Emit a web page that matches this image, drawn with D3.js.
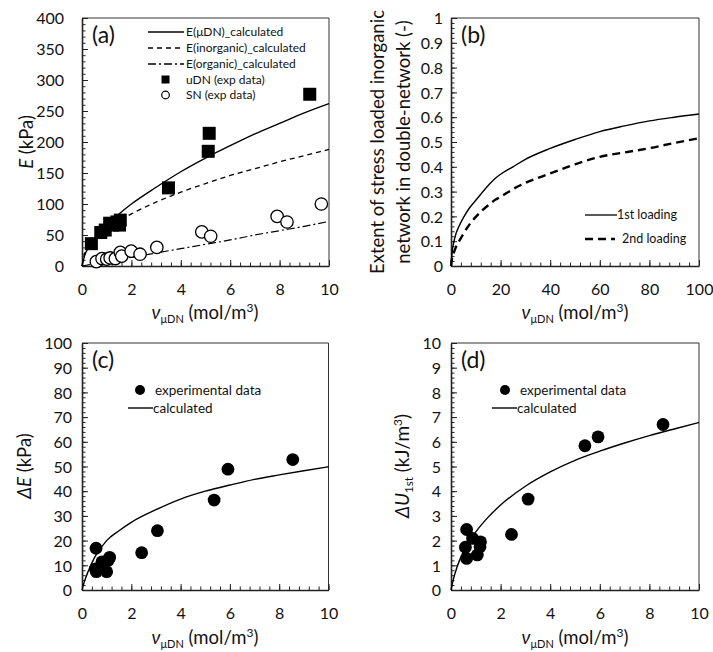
<!DOCTYPE html>
<html><head><meta charset="utf-8">
<script src="https://cdn.jsdelivr.net/npm/d3@7"></script>
<style>
body{margin:0;background:#fff;}
svg{font-family:Lato, "Open Sans", sans-serif;}
</style></head>
<body><svg id="c" width="713" height="652"></svg>
<script>
// ---- Panel (a) data ----
const uDN_v = [0.38, 0.76, 0.94, 1.12, 1.25, 1.41, 1.55, 1.52, 3.5, 5.11, 5.15, 9.22];
const uDN_E = [36, 54, 58, 69, 66, 71, 74, 66, 126, 185, 214, 277];
const SN_v = [0.58, 0.81, 1.0, 1.14, 1.35, 1.55, 1.61, 1.99, 2.35, 3.03, 4.85, 5.21, 7.9, 8.3, 9.69];
const SN_E = [7, 12, 11, 13, 12, 22, 16, 24, 19, 30, 55, 48, 80, 71, 100];
const calc_v = [0, 0.1, 0.25, 0.5, 1, 1.5, 2, 3, 4, 5, 6, 7, 8, 9, 10];
const E_uDN_calc = [0, 16, 29, 44, 66, 84, 100, 127, 152, 174, 194, 213, 230, 247, 262];
const E_inorg_calc = [0, 19, 30, 42, 60, 73, 84, 103, 119, 133, 146, 157, 168, 178, 188];
const E_org_calc = [0, 0.7, 1.8, 3.5, 7, 10.5, 14, 21, 28, 35, 42, 50, 57, 64, 72];
// ---- Panel (b) data ----
const b_v = [0, 0.5, 1, 2, 3, 5, 7.5, 10, 15, 18, 20, 25, 30, 40, 50, 60, 70, 80, 90, 100];
const b_first = [0, 0.06, 0.09, 0.13, 0.155, 0.195, 0.235, 0.265, 0.325, 0.355, 0.37, 0.4, 0.43, 0.474, 0.51, 0.542, 0.565, 0.585, 0.6, 0.613];
const b_second = [0, 0.035, 0.05, 0.077, 0.095, 0.13, 0.168, 0.198, 0.245, 0.268, 0.279, 0.31, 0.335, 0.373, 0.41, 0.44, 0.458, 0.475, 0.496, 0.515];
// ---- Panels (c),(d) data ----
const exp_v = [0.57, 0.54, 0.58, 0.81, 1.0, 1.07, 1.12, 2.42, 3.06, 5.36, 5.92, 8.55];
const dE_exp = [16.9, 8.5, 7.4, 11.4, 7.4, 12.1, 13.2, 15.1, 24.0, 36.4, 48.9, 52.8];
const dU_v = [0.58, 0.63, 0.63, 0.87, 1.06, 1.17, 1.19, 2.44, 3.11, 5.4, 5.93, 8.55];
const dU_exp = [1.73, 2.45, 1.28, 2.09, 1.42, 1.75, 1.95, 2.25, 3.68, 5.84, 6.2, 6.7];
const cd_calc_v = [0, 0.1, 0.25, 0.5, 1, 1.5, 2, 3, 4, 5, 6, 7, 8, 9, 10];
const dE_calc = [0, 3.5, 7.5, 13, 20, 24, 27.4, 32.5, 36.8, 40, 42.5, 44.8, 46.6, 48.3, 49.9];
const dU_calc = [0, 0.45, 0.95, 1.55, 2.35, 2.95, 3.44, 4.2, 4.78, 5.25, 5.62, 5.95, 6.25, 6.52, 6.78];
// ---- tick definitions ----
const ticksA_x = [0, 2, 4, 6, 8, 10];
const ticksA_y = [0, 50, 100, 150, 200, 250, 300, 350, 400];
const ticksB_x = [0, 20, 40, 60, 80, 100];
const ticksB_y = [0, 0.1, 0.2, 0.3, 0.4, 0.5, 0.6, 0.7, 0.8, 0.9, 1];
const ticksC_y = [0, 10, 20, 30, 40, 50, 60, 70, 80, 90, 100];
const ticksD_y = [0, 1, 2, 3, 4, 5, 6, 7, 8, 9, 10];

const svg = d3.select("#c");
const TICKFONT = 16;

function range(a, b, s) { const r = []; for (let i = 0; a + i * s <= b + 1e-9; i++) r.push(+(a + i * s).toFixed(6)); return r; }

function panel(o) {
  const g = svg.append("g");
  const x = d3.scaleLinear().domain(o.xd).range([o.l, o.l + o.w]);
  const y = d3.scaleLinear().domain(o.yd).range([o.t + o.h, o.t]);
  g.append("path").attr("d", `M${o.l},${o.t}H${o.l + o.w}V${o.t + o.h}`)
    .attr("fill", "none").attr("stroke", "#333").attr("stroke-width", 1);
  const minX = range(o.xd[0], o.xd[1], o.xminor);
  const minY = range(o.yd[0], o.yd[1], o.yminor);
  g.append("g").attr("transform", `translate(0,${o.t + o.h})`)
    .call(d3.axisBottom(x).tickValues(minX).tickSize(-3.5).tickFormat(""))
    .call(s => s.select(".domain").remove());
  g.append("g").attr("transform", `translate(${o.l},0)`)
    .call(d3.axisLeft(y).tickValues(minY).tickSize(-3.5).tickFormat(""))
    .call(s => s.select(".domain").remove());
  const ax = g.append("g").attr("transform", `translate(0,${o.t + o.h})`)
    .call(d3.axisBottom(x).tickValues(o.xt).tickSize(-6).tickPadding(18).tickSizeOuter(0).tickFormat(d3.format("~g")));
  const ay = g.append("g").attr("transform", `translate(${o.l},0)`)
    .call(d3.axisLeft(y).tickValues(o.yt).tickSize(-6).tickPadding(o.ypad).tickSizeOuter(0).tickFormat(d3.format("~g")));
  [ax, ay].forEach(a => {
    a.selectAll("text").attr("font-size", TICKFONT).attr("fill", "#111").attr("font-family", "Lato");
    a.select(".domain").attr("stroke", "#222").attr("stroke-width", 1.6);
  });
  ay.selectAll("text").attr("dy", "0.36em");
  g.selectAll(".tick line").attr("stroke", "#222").attr("stroke-width", 1);
  g.append("text").attr("x", o.l + o.labdx).attr("y", o.t + 25).attr("font-size", 23).attr("fill", "#111").text(o.label);
  return { g, x, y };
}

function xTitle(g, cx, by) {
  const t = g.append("text").attr("x", cx).attr("y", by).attr("text-anchor", "middle").attr("font-size", 18.5).attr("fill", "#111");
  t.append("tspan").attr("font-style", "italic").text("ν");
  t.append("tspan").attr("font-size", 11).attr("dy", 4).text("μDN");
  t.append("tspan").attr("dy", -4).text(" (mol/m");
  t.append("tspan").attr("font-size", 12).attr("dy", -7).text("3");
  t.append("tspan").attr("dy", 7).text(")");
}

function line(g, x, y, xs, ys, style) {
  const pts = xs.map((v, i) => [v, ys[i]]);
  g.append("path").datum(pts)
    .attr("d", d3.line().curve(d3.curveMonotoneX).x(d => x(d[0])).y(d => y(d[1])))
    .attr("fill", "none").attr("stroke", "#000").attr("stroke-width", style.w || 1.4)
    .attr("stroke-dasharray", style.dash || null);
}

// ===== Panel (a) =====
const A = panel({ l: 82, t: 18, w: 247, h: 248, xd: [0, 10], yd: [0, 400], xt: ticksA_x, yt: ticksA_y, xminor: 0.4, yminor: 10, ypad: 18, label: "(a)", labdx: 10 });
line(A.g, A.x, A.y, calc_v, E_org_calc, { dash: "8,3,2,3", w: 1.2 });
line(A.g, A.x, A.y, calc_v, E_inorg_calc, { dash: "5,4", w: 1.3 });
line(A.g, A.x, A.y, calc_v, E_uDN_calc, { w: 1.4 });
A.g.selectAll("circle.sn").data(SN_v.map((v, i) => [v, SN_E[i]])).enter().append("circle")
  .attr("cx", d => A.x(d[0])).attr("cy", d => A.y(d[1])).attr("r", 6.2)
  .attr("fill", "#fff").attr("stroke", "#000").attr("stroke-width", 1.3);
A.g.selectAll("rect.u").data(uDN_v.map((v, i) => [v, uDN_E[i]])).enter().append("rect")
  .attr("x", d => A.x(d[0]) - 6.5).attr("y", d => A.y(d[1]) - 6.5).attr("width", 13).attr("height", 13).attr("fill", "#000");
A.g.append("g").attr("transform", "rotate(-90)").append("text")
  .attr("x", -142).attr("y", 33).attr("text-anchor", "middle").attr("font-size", 18.5).attr("fill", "#111")
  .call(t => { t.append("tspan").attr("font-style", "italic").text("E"); t.append("tspan").text(" (kPa)"); });
xTitle(A.g, 205, 319);
const legA = [
  { t: "E(μDN)_calculated", type: "line", dash: null, y: 32 },
  { t: "E(inorganic)_calculated", type: "line", dash: "5,4", y: 48 },
  { t: "E(organic)_calculated", type: "line", dash: "8,3,2,3", y: 64 },
  { t: "uDN (exp data)", type: "sq", y: 79.5 },
  { t: "SN (exp data)", type: "ci", y: 95 }
];
legA.forEach(d => {
  if (d.type === "line") A.g.append("line").attr("x1", 148).attr("x2", 184).attr("y1", d.y).attr("y2", d.y).attr("stroke", "#000").attr("stroke-width", 1.3).attr("stroke-dasharray", d.dash);
  if (d.type === "sq") A.g.append("rect").attr("x", 161.5).attr("y", d.y - 4).attr("width", 8).attr("height", 8).attr("fill", "#000");
  if (d.type === "ci") A.g.append("circle").attr("cx", 165.5).attr("cy", d.y).attr("r", 3.8).attr("fill", "#fff").attr("stroke", "#000").attr("stroke-width", 1.2);
  A.g.append("text").attr("x", 186).attr("y", d.y + 4).attr("font-size", 12).attr("fill", "#111").text(d.t);
});

// ===== Panel (b) =====
const B = panel({ l: 451, t: 18, w: 248, h: 248, xd: [0, 100], yd: [0, 1], xt: ticksB_x, yt: ticksB_y, xminor: 4, yminor: 0.02, ypad: 8, label: "(b)", labdx: 10 });
line(B.g, B.x, B.y, b_v, b_second, { dash: "8,5", w: 2.4 });
line(B.g, B.x, B.y, b_v, b_first, { w: 1.4 });
const bt = B.g.append("g").attr("transform", "rotate(-90)");
bt.append("text").attr("x", -142).attr("y", 384).attr("text-anchor", "middle").attr("font-size", 18.5).attr("fill", "#111").text("Extent of stress loaded inorganic");
bt.append("text").attr("x", -142).attr("y", 410).attr("text-anchor", "middle").attr("font-size", 18.5).attr("fill", "#111").text("network in double-network (-)");
xTitle(B.g, 575, 319);
B.g.append("line").attr("x1", 585).attr("x2", 617).attr("y1", 215).attr("y2", 215).attr("stroke", "#000").attr("stroke-width", 1.3);
B.g.append("text").attr("x", 617).attr("y", 219).attr("font-size", 12.5).attr("fill", "#111").text("1st loading");
B.g.append("line").attr("x1", 585).attr("x2", 615).attr("y1", 239).attr("y2", 239).attr("stroke", "#000").attr("stroke-width", 2.4).attr("stroke-dasharray", "8,5");
B.g.append("text").attr("x", 622).attr("y", 243).attr("font-size", 12.5).attr("fill", "#111").text("2nd loading");

// ===== Panel (c) =====
const C = panel({ l: 82, t: 343, w: 246.5, h: 247, xd: [0, 10], yd: [0, 100], xt: ticksA_x, yt: ticksC_y, xminor: 0.4, yminor: 2, ypad: 10, label: "(c)", labdx: 10 });
line(C.g, C.x, C.y, cd_calc_v, dE_calc, { w: 1.4 });
C.g.selectAll("circle.e").data(exp_v.map((v, i) => [v, dE_exp[i]])).enter().append("circle")
  .attr("cx", d => C.x(d[0])).attr("cy", d => C.y(d[1])).attr("r", 6.4).attr("fill", "#000");
C.g.append("g").attr("transform", "rotate(-90)").append("text")
  .attr("x", -466).attr("y", 31).attr("text-anchor", "middle").attr("font-size", 18.5).attr("fill", "#111")
  .call(t => { t.append("tspan").attr("font-style", "italic").text("ΔE"); t.append("tspan").text(" (kPa)"); });
xTitle(C.g, 205, 644);
C.g.append("circle").attr("cx", 140).attr("cy", 390).attr("r", 5).attr("fill", "#000");
C.g.append("text").attr("x", 155).attr("y", 394.5).attr("font-size", 13.5).attr("fill", "#111").text("experimental data");
C.g.append("line").attr("x1", 128).attr("x2", 153).attr("y1", 408).attr("y2", 408).attr("stroke", "#000").attr("stroke-width", 1.4);
C.g.append("text").attr("x", 153).attr("y", 412.5).attr("font-size", 13.5).attr("fill", "#111").text("calculated");

// ===== Panel (d) =====
const D = panel({ l: 451, t: 343, w: 248, h: 247, xd: [0, 10], yd: [0, 10], xt: ticksA_x, yt: ticksD_y, xminor: 0.4, yminor: 0.2, ypad: 10, label: "(d)", labdx: 10 });
line(D.g, D.x, D.y, cd_calc_v, dU_calc, { w: 1.4 });
D.g.selectAll("circle.e").data(dU_v.map((v, i) => [v, dU_exp[i]])).enter().append("circle")
  .attr("cx", d => D.x(d[0])).attr("cy", d => D.y(d[1])).attr("r", 6.4).attr("fill", "#000");
D.g.append("g").attr("transform", "rotate(-90)").append("text")
  .attr("x", -466).attr("y", 409).attr("text-anchor", "middle").attr("font-size", 19).attr("fill", "#111")
  .call(t => {
    t.append("tspan").attr("font-style", "italic").text("ΔU");
    t.append("tspan").attr("font-size", 11.5).attr("dy", 4).text("1st");
    t.append("tspan").attr("dy", -4).text(" (kJ/m");
    t.append("tspan").attr("font-size", 12).attr("dy", -7).text("3");
    t.append("tspan").attr("dy", 7).text(")");
  });
xTitle(D.g, 575, 644);
D.g.append("circle").attr("cx", 505).attr("cy", 390).attr("r", 5).attr("fill", "#000");
D.g.append("text").attr("x", 520).attr("y", 394.5).attr("font-size", 13.5).attr("fill", "#111").text("experimental data");
D.g.append("line").attr("x1", 492).attr("x2", 517).attr("y1", 408).attr("y2", 408).attr("stroke", "#000").attr("stroke-width", 1.4);
D.g.append("text").attr("x", 517).attr("y", 412.5).attr("font-size", 13.5).attr("fill", "#111").text("calculated");
</script></body></html>
